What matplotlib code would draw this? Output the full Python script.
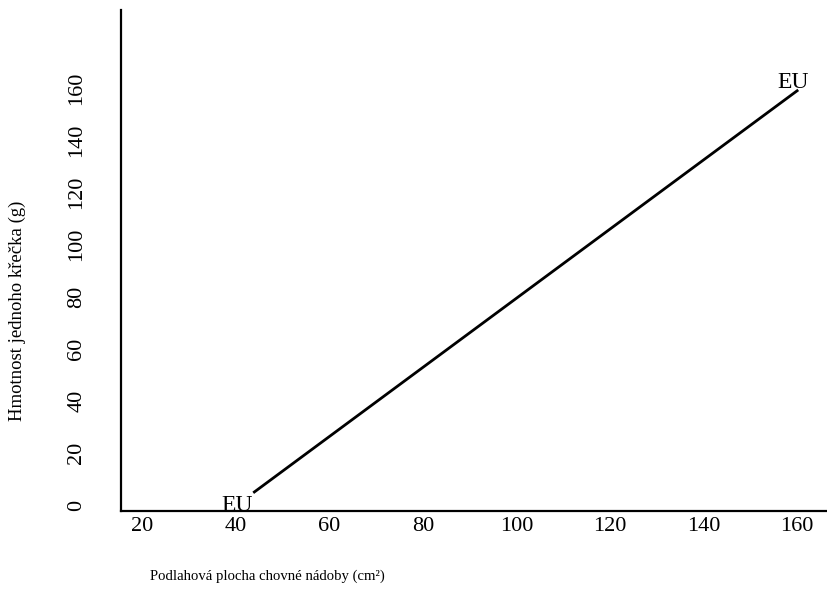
import matplotlib
matplotlib.use('Agg')
import matplotlib.pyplot as plt

# data
plocha = [44, 160]          # cm2
hmotnost = [5, 159]         # g
popisky = ['EU', 'EU']
x_ticks = [20, 40, 60, 80, 100, 120, 140, 160]
y_ticks = [0, 20, 40, 60, 80, 100, 120, 140, 160]

plt.rcParams['font.family'] = ['Liberation Serif', 'DejaVu Serif']

fig = plt.figure(figsize=(8.28, 6.11), dpi=100)
fig.set_facecolor('white')
ax = fig.add_axes([121 / 828, 100 / 611, 707 / 828, 501 / 611])

ax.plot(plocha, hmotnost, c='black', lw=2)

# EU labels at both ends of the line
ax.text(plocha[0] - 0.3, hmotnost[0] - 1, popisky[0], fontsize=17, ha='right', va='top')
ax.text(plocha[1] - 0.8, hmotnost[1] + 3, popisky[1], fontsize=17, ha='center', va='center')

ax.set_xlim(15.5, 166.6)
ax.set_ylim(-2.3, 190)
ax.set_xticks(x_ticks)
ax.set_yticks(y_ticks)
ax.tick_params(axis='x', length=0, pad=4, labelsize=16)
ax.tick_params(axis='y', length=0, pad=25, labelsize=16, labelrotation=90)
for lab in ax.get_yticklabels():
    lab.set_va('center')

for s in ['top', 'right']:
    ax.spines[s].set_visible(False)
for s in ['left', 'bottom']:
    ax.spines[s].set_linewidth(1.6)

ax.set_xlabel('Podlahová plocha chovné nádoby (cm²)', fontsize=10.6, ha='left')
ax.xaxis.set_label_coords(0.041, -0.116)
ax.set_ylabel('Hmotnost jednoho křečka (g)', fontsize=13.5)
ax.yaxis.set_label_coords(-0.135, 0.40)

plt.savefig('out.png', dpi=100)
